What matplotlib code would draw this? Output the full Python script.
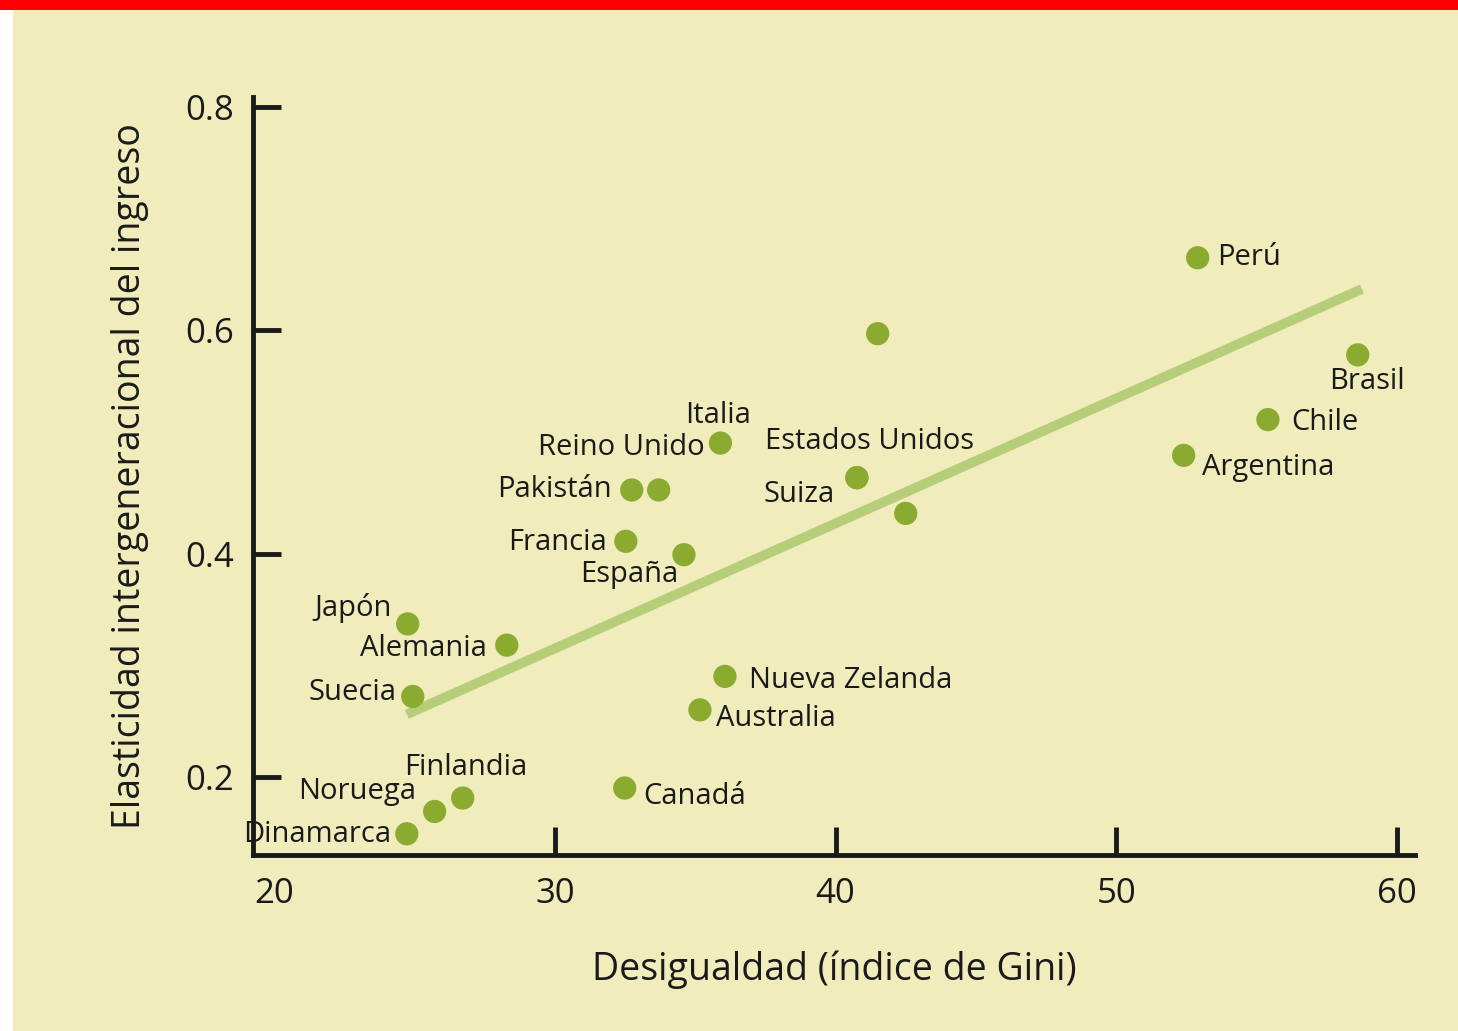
import matplotlib.pyplot as plt
from matplotlib.patches import Rectangle

# Country points: Gini index vs intergenerational income elasticity
countries = ['Perú', '', 'Brasil', 'Chile', 'Argentina', 'Italia', 'Pakistán',
             'Estados Unidos', 'Suiza', '', 'Reino Unido', 'Francia', 'España',
             'Japón', 'Alemania', 'Suecia', 'Nueva Zelanda', 'Australia',
             'Canadá', 'Finlandia', 'Noruega', 'Dinamarca']
gini = [52.9, 41.5, 58.6, 55.4, 52.4, 35.9, 32.74, 40.76, 40.76, 42.5, 33.7, 32.53,
        34.6, 24.76, 28.29, 24.94, 36.06, 35.17, 32.49, 26.72, 25.72, 24.73]
elast = [0.665, 0.597, 0.578, 0.52, 0.488, 0.499, 0.457, 0.468, 0.468, 0.436, 0.457,
         0.411, 0.399, 0.337, 0.318, 0.272, 0.29, 0.26, 0.19, 0.181, 0.169, 0.149]

# label offsets in pixels (dx, dy) and alignment
offsets = [(19, 0, 'left'), None, (9, -27, 'center'), (23, -3, 'left'), (18, -12, 'left'),
           (-2, 28, 'center'), (-20, 0, 'right'), (13, 36, 'center'), (-22, -17, 'right'),
           None, (46, 42, 'right'), (-19, -1, 'right'), (-6, -20, 'right'), (-16, 16, 'right'),
           (-20, -3, 'right'), (-16, 4, 'right'), (24, -4, 'left'), (16, -9, 'left'),
           (19, -8, 'left'), (3, 31, 'center'), (-19, 20, 'right'), (-16, -1, 'right')]

trend_x = [24.73, 58.75]
trend_y = [0.256, 0.637]

bg = '#f0ecbc'
dot_color = '#8aab30'
line_color = '#b6cd7a'
ink = '#1a1a1a'
font = ['Open Sans', 'DejaVu Sans']

fig = plt.figure(figsize=(14.58, 10.31), dpi=100)
fig.patch.set_facecolor('white')
fig.add_artist(Rectangle((13 / 1458, 0), 1, 1 - 10 / 1031, transform=fig.transFigure,
                         facecolor=bg, edgecolor='none', zorder=-10))
fig.add_artist(Rectangle((0, 1 - 10 / 1031), 1, 10 / 1031, transform=fig.transFigure,
                         facecolor='#ff0000', edgecolor='none', zorder=-10))

ax = fig.add_axes([253 / 1458, 1 - 855 / 1031, (1415 - 253) / 1458, (855 - 97) / 1031])
ax.set_facecolor('none')

ax.plot(trend_x, trend_y, color=line_color, linewidth=7, solid_capstyle='butt', zorder=2)
ax.scatter(gini, elast, s=280, color=dot_color, edgecolor='none', zorder=3)

px = 72 / 100  # pixels to points
for name, x, y, off in zip(countries, gini, elast, offsets):
    if not name:
        continue
    dx, dy, ha = off
    ax.annotate(name, (x, y), xytext=(dx * px, dy * px), textcoords='offset points',
                ha=ha, va='center', fontsize=21, color=ink, family=font, zorder=4)

ax.set_xlim(19.25, 60.64)
ax.set_ylim(0.13, 0.809)
ax.set_xticks([20, 30, 40, 50, 60])
ax.set_yticks([0.2, 0.4, 0.6, 0.8])
ax.set_yticklabels(['0.2', '0.4', '0.6', '0.8'])
ax.tick_params(axis='both', direction='in', length=20, width=3.5, color=ink,
               labelsize=25, labelcolor=ink)
ax.tick_params(axis='x', pad=16)
ax.tick_params(axis='y', pad=14)
ax.xaxis.get_major_ticks()[0].tick1line.set_visible(False)
for lbl in ax.get_xticklabels() + ax.get_yticklabels():
    lbl.set_family(font)

for side in ['top', 'right']:
    ax.spines[side].set_visible(False)
for side in ['left', 'bottom']:
    ax.spines[side].set_linewidth(3.5)
    ax.spines[side].set_color(ink)

ax.set_xlabel('Desigualdad (índice de Gini)', fontsize=27, color=ink, family=font, labelpad=28)
ax.set_ylabel('Elasticidad intergeneracional del ingreso', fontsize=27, color=ink,
              family=font, labelpad=26)

fig.savefig('out.png', dpi=100)
